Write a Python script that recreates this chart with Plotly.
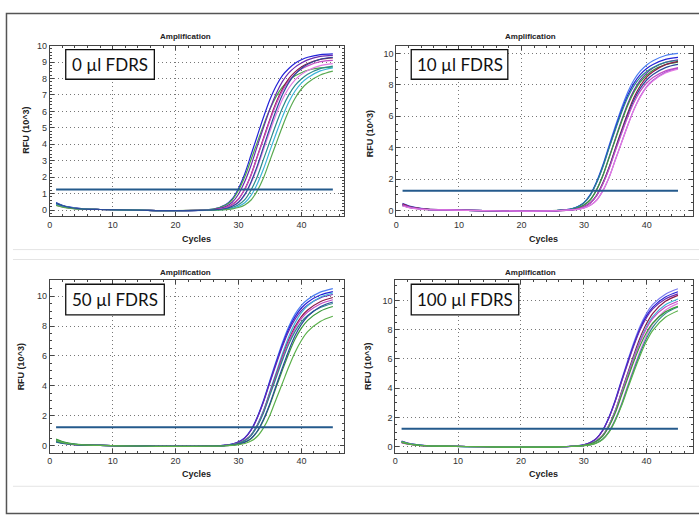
import plotly.graph_objects as go

W, H = 699, 515

# ---------------- data ----------------
CYCLES = [1, 2, 3, 5, 8, 14, 20, 26, 28, 29, 30, 31, 32, 33, 34, 35, 36, 37, 38, 39, 40, 41, 43, 45]
PANEL_LABELS = ["0 µl FDRS", "10 µl FDRS", "50 µl FDRS", "100 µl FDRS"]
THRESHOLDS = [1.25, 1.25, 1.25, 1.23]
THRESHOLD_SPAN = [1, 45]
X_TICKS = [0, 10, 20, 30, 40]

RFU_0UL = [
    [0.45,0.29,0.19,0.08,0.03,-0.01,-0.04,0.05,0.33,0.67,1.31,2.21,3.36,4.52,5.67,6.72,7.56,8.19,8.61,8.93,9.14,9.29,9.45,9.50],
    [0.35,0.23,0.15,0.06,0.03,-0.01,-0.04,0.05,0.30,0.61,1.20,2.02,3.07,4.13,5.18,6.14,6.91,7.49,7.87,8.16,8.35,8.50,8.64,8.69],
    [0.40,0.26,0.17,0.07,0.03,-0.01,-0.04,0.03,0.22,0.47,0.96,1.73,2.72,3.90,5.04,6.14,7.09,7.82,8.34,8.69,8.94,9.13,9.34,9.40],
    [0.30,0.20,0.13,0.05,0.03,-0.01,-0.04,0.02,0.14,0.33,0.67,1.28,2.15,3.28,4.40,5.53,6.55,7.37,7.99,8.40,8.70,8.91,9.16,9.25],
    [0.38,0.25,0.16,0.07,0.03,-0.01,-0.04,0.02,0.14,0.32,0.66,1.26,2.12,3.23,4.33,5.44,6.45,7.26,7.86,8.27,8.57,8.77,9.02,9.10],
    [0.33,0.21,0.14,0.06,0.03,-0.01,-0.04,0.01,0.09,0.22,0.45,0.91,1.64,2.59,3.70,4.79,5.82,6.73,7.42,7.92,8.25,8.49,8.78,8.90],
    [0.42,0.27,0.18,0.08,0.03,-0.01,-0.04,0.00,0.06,0.15,0.32,0.63,1.22,2.04,3.11,4.18,5.25,6.22,7.00,7.58,7.97,8.26,8.60,8.75],
    [0.36,0.23,0.15,0.06,0.03,-0.01,-0.04,-0.01,0.04,0.10,0.22,0.44,0.89,1.60,2.52,3.61,4.67,5.68,6.57,7.24,7.72,8.05,8.46,8.65],
    [0.28,0.18,0.12,0.05,0.03,-0.01,-0.04,-0.01,0.02,0.07,0.15,0.31,0.61,1.18,1.98,3.02,4.06,5.10,6.04,6.80,7.36,7.74,8.21,8.45],
    [0.40,0.26,0.17,0.07,0.03,-0.01,-0.04,0.01,0.09,0.23,0.47,0.95,1.71,2.70,3.86,5.00,6.08,7.02,7.75,8.26,8.61,8.86,9.17,9.29],
]
COLORS_0UL = ["#2323d8", "#4aa84a", "#6a2bb0", "#8b1a4a", "#c44cc4",
              "#e27ae2", "#2a8a8a", "#3cb4d8", "#5aaa50", "#2b4a9a"]

RFU_10UL = [
    [0.45,0.29,0.19,0.08,0.03,-0.01,-0.04,0.01,0.10,0.25,0.51,1.02,1.84,2.91,4.16,5.38,6.54,7.56,8.34,8.89,9.27,9.54,9.87,10.00],
    [0.40,0.26,0.17,0.07,0.03,-0.01,-0.04,0.01,0.10,0.24,0.50,1.00,1.79,2.83,4.05,5.24,6.38,7.37,8.13,8.67,9.04,9.30,9.62,9.75],
    [0.35,0.23,0.15,0.06,0.03,-0.01,-0.04,0.00,0.07,0.16,0.35,0.69,1.33,2.24,3.41,4.59,5.76,6.83,7.68,8.32,8.75,9.07,9.44,9.60],
    [0.30,0.20,0.13,0.05,0.03,-0.01,-0.04,0.00,0.06,0.16,0.35,0.68,1.31,2.21,3.36,4.52,5.67,6.72,7.56,8.19,8.61,8.93,9.29,9.45],
    [0.38,0.25,0.16,0.07,0.03,-0.01,-0.04,0.01,0.10,0.23,0.49,0.97,1.76,2.77,3.97,5.14,6.25,7.22,7.96,8.49,8.85,9.11,9.43,9.55],
    [0.42,0.27,0.18,0.08,0.03,-0.01,-0.04,-0.01,0.04,0.11,0.24,0.49,0.97,1.76,2.77,3.97,5.13,6.24,7.22,7.96,8.49,8.84,9.29,9.50],
    [0.33,0.21,0.14,0.06,0.03,-0.01,-0.04,-0.01,0.04,0.10,0.24,0.48,0.95,1.72,2.71,3.89,5.02,6.11,7.07,7.79,8.31,8.66,9.10,9.30],
    [0.36,0.23,0.15,0.06,0.03,-0.01,-0.04,-0.01,0.04,0.10,0.23,0.47,0.93,1.68,2.65,3.80,4.91,5.98,6.91,7.62,8.12,8.47,8.89,9.10],
    [0.30,0.20,0.13,0.05,0.03,-0.01,-0.04,-0.01,0.03,0.07,0.16,0.33,0.66,1.26,2.12,3.24,4.35,5.46,6.47,7.28,7.89,8.29,8.80,9.05],
    [0.28,0.18,0.12,0.05,0.03,-0.01,-0.04,-0.01,0.03,0.07,0.16,0.33,0.65,1.26,2.11,3.22,4.33,5.43,6.44,7.24,7.85,8.25,8.75,9.00],
]
COLORS_10UL = ["#4a7cf0", "#2323d8", "#6a2bb0", "#3a9a3a", "#2a8a8a",
               "#8b1a4a", "#2b4a9a", "#c44cc4", "#9a4ad0", "#e27ae2"]

RFU_50UL = [
    [0.40,0.26,0.17,0.07,0.03,-0.01,-0.04,0.00,0.05,0.12,0.27,0.54,1.08,1.94,3.06,4.38,5.67,6.90,7.97,8.79,9.38,9.77,10.26,10.50],
    [0.35,0.23,0.15,0.06,0.03,-0.01,-0.04,0.00,0.05,0.12,0.26,0.53,1.06,1.90,3.01,4.30,5.56,6.77,7.82,8.63,9.20,9.59,10.07,10.30],
    [0.30,0.20,0.13,0.05,0.03,-0.01,-0.04,0.00,0.05,0.11,0.26,0.52,1.04,1.87,2.95,4.22,5.46,6.64,7.67,8.46,9.02,9.41,9.88,10.10],
    [0.38,0.25,0.16,0.07,0.03,-0.01,-0.04,-0.01,0.03,0.08,0.18,0.38,0.74,1.43,2.39,3.65,4.90,6.16,7.30,8.21,8.89,9.35,9.92,10.20],
    [0.33,0.21,0.14,0.06,0.03,-0.01,-0.04,-0.01,0.03,0.08,0.18,0.37,0.72,1.38,2.32,3.54,4.76,5.97,7.08,7.96,8.63,9.07,9.62,9.90],
    [0.28,0.18,0.12,0.05,0.03,-0.01,-0.04,-0.01,0.03,0.08,0.17,0.36,0.71,1.36,2.29,3.48,4.68,5.88,6.97,7.84,8.49,8.93,9.47,9.75],
    [0.25,0.16,0.11,0.05,0.03,-0.01,-0.04,-0.01,0.03,0.08,0.17,0.35,0.69,1.33,2.23,3.40,4.56,5.73,6.79,7.64,8.28,8.70,9.23,9.50],
    [0.45,0.29,0.19,0.08,0.03,-0.01,-0.04,-0.01,0.02,0.05,0.12,0.24,0.48,0.96,1.73,2.74,3.92,5.07,6.17,7.13,7.86,8.38,8.99,9.30],
    [0.30,0.20,0.13,0.05,0.03,-0.01,-0.04,-0.01,0.02,0.05,0.12,0.25,0.50,0.99,1.79,2.83,4.05,5.23,6.37,7.36,8.11,8.65,9.28,9.60],
    [0.35,0.23,0.15,0.06,0.03,-0.01,-0.04,-0.02,0.01,0.03,0.08,0.16,0.32,0.64,1.22,2.05,3.13,4.20,5.28,6.25,7.03,7.62,8.30,8.65],
]
COLORS_50UL = ["#4a7cf0", "#2323d8", "#6a2bb0", "#3cb4d8", "#8b1a4a",
               "#c44cc4", "#2a8a8a", "#3a9a3a", "#2b4a9a", "#5ab04a"]

RFU_100UL = [
    [0.35,0.23,0.15,0.06,0.03,-0.01,-0.04,-0.01,0.02,0.06,0.13,0.28,0.56,1.12,2.01,3.18,4.55,5.88,7.16,8.27,9.12,9.73,10.43,10.80],
    [0.30,0.20,0.13,0.05,0.03,-0.01,-0.04,-0.01,0.02,0.06,0.13,0.27,0.55,1.10,1.98,3.12,4.47,5.78,7.03,8.12,8.96,9.55,10.24,10.60],
    [0.38,0.25,0.16,0.07,0.03,-0.01,-0.04,-0.01,0.02,0.06,0.13,0.27,0.54,1.08,1.95,3.08,4.40,5.69,6.93,8.01,8.83,9.42,10.10,10.45],
    [0.28,0.18,0.12,0.05,0.03,-0.01,-0.04,-0.02,0.02,0.04,0.09,0.19,0.39,0.76,1.46,2.45,3.74,5.03,6.31,7.48,8.42,9.12,9.94,10.35],
    [0.33,0.21,0.14,0.06,0.03,-0.01,-0.04,-0.02,0.02,0.04,0.09,0.18,0.38,0.74,1.43,2.40,3.65,4.91,6.16,7.30,8.22,8.90,9.70,10.10],
    [0.25,0.16,0.11,0.05,0.03,-0.01,-0.04,-0.02,0.02,0.04,0.09,0.18,0.37,0.73,1.41,2.36,3.60,4.83,6.07,7.19,8.09,8.77,9.55,9.95],
    [0.30,0.20,0.13,0.05,0.03,-0.01,-0.04,-0.02,0.01,0.03,0.07,0.12,0.26,0.51,1.03,1.85,2.92,4.19,5.41,6.58,7.61,8.39,9.33,9.80],
    [0.35,0.23,0.15,0.06,0.03,-0.01,-0.04,-0.02,0.01,0.03,0.07,0.12,0.25,0.50,1.00,1.81,2.85,4.08,5.28,6.42,7.42,8.18,9.10,9.55],
    [0.28,0.18,0.12,0.05,0.03,-0.01,-0.04,-0.02,0.02,0.04,0.09,0.17,0.36,0.71,1.36,2.28,3.47,4.67,5.86,6.94,7.81,8.46,9.22,9.60],
    [0.32,0.21,0.13,0.06,0.03,-0.01,-0.04,-0.02,0.01,0.03,0.06,0.12,0.24,0.49,0.97,1.76,2.77,3.97,5.14,6.25,7.22,7.96,8.85,9.30],
]
COLORS_100UL = ["#7a7af0", "#2323d8", "#6a2bb0", "#8b1a4a", "#3cb4d8",
                "#c44cc4", "#e27ae2", "#2a8a8a", "#3a9a3a", "#5ab04a"]

PANEL_DATA = [RFU_0UL, RFU_10UL, RFU_50UL, RFU_100UL]
PANEL_COLORS = [COLORS_0UL, COLORS_10UL, COLORS_50UL, COLORS_100UL]

# ---------------- layout geometry (pixels) ----------------
GEOM = [
    dict(px=(47, 342), py=(41, 213), xr=[0, 46.7], yr=[-0.36, 10.0], ydt=1, ymin=0.2,
         title=(183, 32), cyc=(194, 236), rfu=(23, 126), box=(63, 45, 152, 75)),
    dict(px=(395, 693), py=(41, 213), xr=[0, 47.4], yr=[-0.35, 10.5], ydt=2, ymin=0.5,
         title=(530, 32), cyc=(543, 236), rfu=(368, 130), box=(410, 45, 507, 75)),
    dict(px=(47, 342), py=(278, 452), xr=[0, 46.7], yr=[-0.45, 11.05], ydt=2, ymin=0.5,
         title=(183, 270), cyc=(194, 474), rfu=(19, 365), box=(63, 282, 162, 313)),
    dict(px=(394, 693), py=(278, 452), xr=[0, 47.4], yr=[-0.41, 11.38], ydt=2, ymin=0.5,
         title=(530, 270), cyc=(543, 474), rfu=(367, 365), box=(410, 282, 518, 313)),
]


def fx(p):
    return p / W


def fy(p):
    return 1 - p / H


fig = go.Figure()
annotations = []
shapes = []
TICK_FONT = dict(family="Liberation Sans, Arial, sans-serif", size=9, color="#333333")
BOLD_FONT = "Liberation Sans, Arial, sans-serif"

for i, g in enumerate(GEOM):
    n = "" if i == 0 else str(i + 1)
    xa, ya = "x" + n, "y" + n
    for curve, col in zip(PANEL_DATA[i], PANEL_COLORS[i]):
        if len(curve) != len(CYCLES):
            raise ValueError("length mismatch")
        fig.add_trace(go.Scatter(
            x=CYCLES, y=curve, mode="lines", xaxis=xa, yaxis=ya,
            line=dict(color=col, width=1.2, shape="spline", smoothing=0.9),
            hoverinfo="skip", showlegend=False))
    fig.add_trace(go.Scatter(
        x=THRESHOLD_SPAN, y=[THRESHOLDS[i], THRESHOLDS[i]], mode="lines",
        xaxis=xa, yaxis=ya, line=dict(color="#245a8c", width=2),
        hoverinfo="skip", showlegend=False))

    common = dict(showline=True, linecolor="#444444", linewidth=1, mirror="ticks",
                  ticks="inside", ticklen=4, tickcolor="#444444",
                  showgrid=True, gridcolor="#777777", griddash="1px,3px", gridwidth=1,
                  zeroline=False, tickfont=TICK_FONT, fixedrange=True)
    fig.layout["xaxis" + n] = dict(
        domain=[fx(g["px"][0]), fx(g["px"][1])], range=g["xr"], anchor=ya,
        tickvals=X_TICKS, minor=dict(dtick=2, ticks="inside", ticklen=2, tickcolor="#444444",
                                     showgrid=False),
        **common)
    fig.layout["yaxis" + n] = dict(
        domain=[fy(g["py"][1]), fy(g["py"][0])], range=g["yr"], anchor=xa,
        tick0=0, dtick=g["ydt"],
        minor=dict(dtick=g["ymin"], ticks="inside", ticklen=2, tickcolor="#444444",
                   showgrid=False),
        **common)

    annotations.append(dict(text="<b>Amplification</b>", x=fx(g["title"][0]), y=fy(g["title"][1]),
                            xref="paper", yref="paper", showarrow=False,
                            xanchor="center", yanchor="middle",
                            font=dict(family=BOLD_FONT, size=8, color="#222222")))
    annotations.append(dict(text="<b>Cycles</b>", x=fx(g["cyc"][0]), y=fy(g["cyc"][1]),
                            xref="paper", yref="paper", showarrow=False,
                            xanchor="center", yanchor="middle",
                            font=dict(family=BOLD_FONT, size=9, color="#222222")))
    annotations.append(dict(text="<b>RFU (10^3)</b>", x=fx(g["rfu"][0]), y=fy(g["rfu"][1]),
                            xref="paper", yref="paper", showarrow=False, textangle=-90,
                            xanchor="center", yanchor="middle",
                            font=dict(family=BOLD_FONT, size=9, color="#222222")))
    bx0, by0, bx1, by1 = g["box"]
    shapes.append(dict(type="rect", xref="paper", yref="paper",
                       x0=fx(bx0), x1=fx(bx1), y0=fy(by1), y1=fy(by0),
                       line=dict(color="#111111", width=1.3), fillcolor="white", layer="above"))
    annotations.append(dict(text=PANEL_LABELS[i], x=fx((bx0 + bx1) / 2), y=fy((by0 + by1) / 2),
                            xref="paper", yref="paper", showarrow=False,
                            xanchor="center", yanchor="middle",
                            font=dict(family="Lato, Open Sans, sans-serif", size=17, color="#111111")))

# separators and outer frame
for yy in (247, 257, 486):
    shapes.append(dict(type="line", xref="paper", yref="paper", x0=fx(10), x1=1.0,
                       y0=fy(yy), y1=fy(yy), line=dict(color="#e4e4e4", width=1), layer="below"))
shapes.append(dict(type="rect", xref="paper", yref="paper", x0=fx(3.5), x1=1.05,
                   y0=fy(513.5), y1=fy(8.5), line=dict(color="#555555", width=1.5),
                   fillcolor="rgba(0,0,0,0)", layer="above"))

fig.update_layout(width=W, height=H, margin=dict(l=0, r=0, t=0, b=0),
                  paper_bgcolor="white", plot_bgcolor="white",
                  annotations=annotations, shapes=shapes, showlegend=False)

fig.write_html(
    "out.html",
    config={"displayModeBar": False, "staticPlot": True},
    post_script=(
        "document.documentElement.style.margin='0';"
        "document.body.style.margin='0';document.body.style.padding='0';"
        "document.body.style.overflow='hidden';"
        "var gd=document.getElementById('{plot_id}');"
        "gd.style.position='fixed';gd.style.left='0px';gd.style.top='0px';"
    ),
)
